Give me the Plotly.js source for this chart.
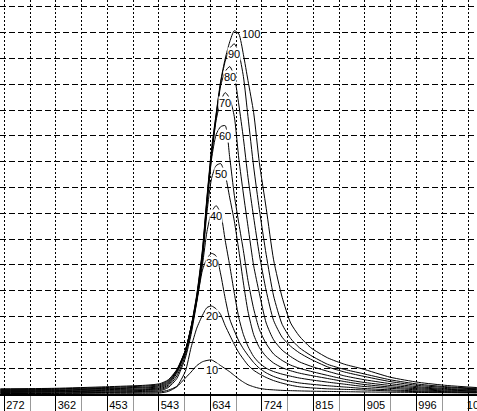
<!DOCTYPE html>
<html>
<head>
<meta charset="utf-8">
<script src="https://cdn.plot.ly/plotly-3.0.1.min.js"></script>
<style>
  html, body { margin: 0; padding: 0; background: #fff; }
  #chart { width: 477px; height: 411px; }
</style>
</head>
<body>
<div id="chart"></div>
<script>
// x positions shared by every curve
var xs = [265, 360, 450, 520, 545, 560, 575, 590, 600, 610, 620, 628, 636, 644, 652, 660, 668, 676,
          684, 692, 700, 710, 720, 732, 745, 760, 775, 790, 810, 840, 870, 900, 950, 1000, 1050, 1102];

// one curve per level (grid units)
var c10  = [0.02, 0.02, 0.03, 0.03, 0.04, 0.1, 0.28, 0.62, 0.85, 1.1, 1.25, 1.3, 1.32, 1.22, 1.1, 0.98, 0.86, 0.72,
            0.58, 0.46, 0.36, 0.28, 0.22, 0.18, 0.16, 0.14, 0.13, 0.12, 0.11, 0.1, 0.09, 0.08, 0.07, 0.06, 0.05, 0.04];
var c20  = [0.04, 0.04, 0.06, 0.07, 0.08, 0.15, 0.3, 0.88, 1.8, 2.55, 3.05, 3.35, 3.41, 3.3, 3.08, 2.65, 2.28, 1.92,
            1.6, 1.35, 1.12, 0.92, 0.78, 0.64, 0.52, 0.42, 0.34, 0.28, 0.24, 0.2, 0.18, 0.16, 0.12, 0.09, 0.07, 0.06];
var c30  = [0.06, 0.07, 0.08, 0.1, 0.12, 0.25, 0.6, 1.4, 2.3, 3.55, 4.8, 5.25, 5.45, 5.35, 4.65, 3.7, 2.9, 2.45,
            2.05, 1.75, 1.5, 1.22, 1.0, 0.82, 0.68, 0.57, 0.49, 0.43, 0.38, 0.32, 0.27, 0.22, 0.16, 0.12, 0.09, 0.07];
var c40  = [0.08, 0.09, 0.11, 0.14, 0.16, 0.3, 0.7, 1.5, 2.4, 3.6, 5.0, 6.3, 7.05, 7.3, 7.0, 5.95, 4.97, 3.9,
            2.95, 2.3, 1.85, 1.45, 1.2, 1.0, 0.87, 0.77, 0.69, 0.62, 0.55, 0.46, 0.38, 0.3, 0.22, 0.16, 0.12, 0.1];
var c50  = [0.1, 0.11, 0.14, 0.17, 0.2, 0.35, 0.8, 1.6, 2.5, 3.62, 5.2, 7.05, 8.35, 8.85, 8.93, 8.5, 7.6, 6.7,
            5.55, 4.3, 3.2, 2.3, 1.8, 1.45, 1.2, 1.02, 0.9, 0.81, 0.72, 0.6, 0.48, 0.38, 0.27, 0.2, 0.15, 0.12];
var c60  = [0.12, 0.13, 0.17, 0.2, 0.24, 0.4, 0.85, 1.65, 2.55, 3.66, 5.3, 7.3, 9.1, 10.05, 10.36, 10.4, 9.15, 7.7,
            6.6, 5.55, 4.4, 3.3, 2.5, 1.95, 1.55, 1.3, 1.12, 1.0, 0.88, 0.72, 0.57, 0.46, 0.33, 0.24, 0.18, 0.15];
var c70  = [0.14, 0.15, 0.2, 0.24, 0.28, 0.44, 0.88, 1.67, 2.57, 3.7, 5.38, 7.4, 9.2, 10.6, 11.35, 11.68, 11.45, 10.75,
            9.1, 7.75, 6.5, 4.97, 3.9, 2.75, 2.1, 1.7, 1.45, 1.25, 1.08, 0.88, 0.7, 0.57, 0.4, 0.28, 0.21, 0.17];
var c80  = [0.16, 0.18, 0.22, 0.27, 0.32, 0.48, 0.9, 1.68, 2.58, 3.75, 5.45, 7.5, 9.3, 10.7, 11.95, 12.5, 12.69, 12.3,
            11.2, 9.9, 8.4, 6.85, 5.4, 4.0, 2.85, 2.2, 1.85, 1.6, 1.35, 1.05, 0.85, 0.7, 0.48, 0.33, 0.25, 0.2];
var c90  = [0.18, 0.2, 0.25, 0.31, 0.36, 0.52, 0.93, 1.69, 2.59, 3.8, 5.52, 7.58, 9.4, 10.8, 12.05, 12.9, 13.4, 13.57,
            13.2, 12.3, 10.75, 8.8, 7.15, 5.4, 3.8, 2.7, 2.15, 1.8, 1.5, 1.15, 0.95, 0.8, 0.55, 0.38, 0.28, 0.22];
var c100 = [0.2, 0.22, 0.28, 0.34, 0.4, 0.55, 0.95, 1.7, 2.6, 3.85, 5.6, 7.65, 9.5, 10.85, 12.12, 13.0, 13.65, 14.08,
            13.95, 13.15, 12.15, 10.9, 8.96, 7.2, 5.2, 3.75, 2.75, 2.25, 1.8, 1.4, 1.15, 0.98, 0.65, 0.45, 0.33, 0.25];

var curves = [c10, c20, c30, c40, c50, c60, c70, c80, c90, c100];
var curveLabels = ["10", "20", "30", "40", "50", "60", "70", "80", "90", "100"];

var xTickVals = [272, 362.5, 453, 543.5, 634, 724.5, 815, 905.5, 996, 1086.5];
var xTickText = ["272", "362", "453", "543", "634", "724", "815", "905", "996", "1086"];

function labelFont() {
  return {family: "Liberation Sans, Arial, sans-serif", size: 11, color: "#000"};
}

var data = [];
var annotations = [];
for (var i = 0; i < curves.length; i++) {
  var ys = curves[i];
  data.push({
    x: xs,
    y: ys,
    mode: "lines",
    line: {color: "#000", width: 1, shape: "spline", smoothing: 0.6},
    hoverinfo: "skip"
  });
  // label sits just under the peak of its curve
  var peak = 0;
  for (var j = 1; j < ys.length; j++) {
    if (ys[j] > ys[peak]) peak = j;
  }
  var last = (i == curves.length - 1);
  annotations.push({
    xref: "x",
    yref: "y",
    x: xs[peak],
    y: ys[peak],
    text: curveLabels[i],
    showarrow: false,
    font: labelFont(),
    bgcolor: "#fff",
    borderpad: 0,
    xshift: last ? 17 : 0,
    yshift: last ? -3 : -10
  });
}

var layout = {
  width: 477,
  height: 411,
  margin: {l: 0, r: 0, t: 0, b: 17, pad: 0},
  paper_bgcolor: "#fff",
  plot_bgcolor: "#fff",
  showlegend: false,
  font: labelFont(),
  xaxis: {
    range: [264.4, 1102.3],
    tickmode: "array",
    tickvals: xTickVals,
    ticktext: xTickText,
    ticks: "outside",
    ticklen: 15,
    tickwidth: 1,
    tickcolor: "#000",
    ticklabelstandoff: -15,
    ticklabelshift: 11,
    ticklabeloverflow: "allow",
    showgrid: true,
    gridcolor: "#000",
    gridwidth: 1,
    griddash: "2px,2px",
    minor: {
      tickmode: "linear",
      tick0: 272,
      dtick: 45.25,
      showgrid: true,
      gridcolor: "#000",
      gridwidth: 1,
      griddash: "2px,2px",
      ticks: "outside",
      ticklen: 17,
      tickcolor: "#999"
    },
    showline: true,
    linecolor: "#000",
    linewidth: 2,
    zeroline: false,
    tickfont: labelFont()
  },
  yaxis: {
    range: [0, 15.27],
    tick0: 0,
    dtick: 1,
    showticklabels: false,
    ticks: "",
    showgrid: true,
    gridcolor: "#000",
    gridwidth: 1,
    griddash: "6px,3px",
    zeroline: false,
    showline: false
  },
  annotations: annotations
};

Plotly.newPlot("chart", data, layout, {staticPlot: true, displayModeBar: false});
</script>
</body>
</html>
